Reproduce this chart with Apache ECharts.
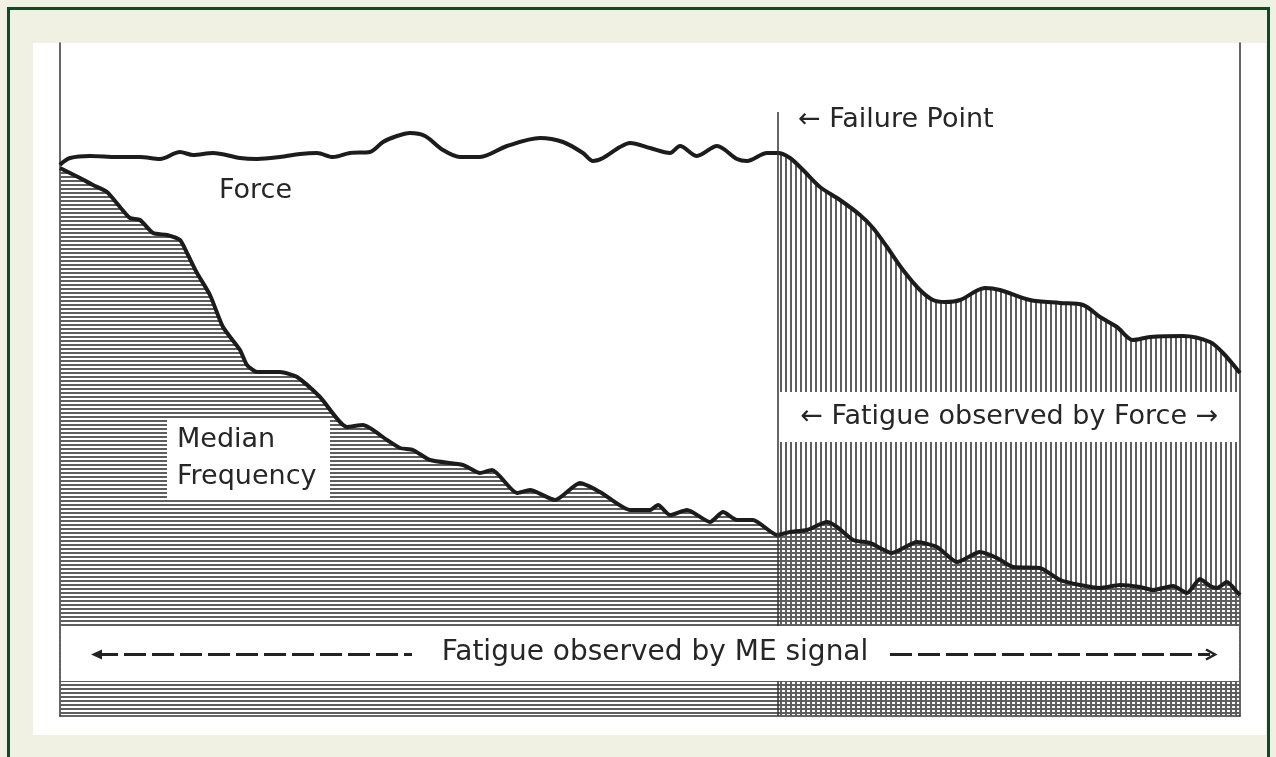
<!DOCTYPE html>
<html>
<head>
<meta charset="utf-8">
<title>Force and median frequency during fatigue</title>
<script src="https://cdn.jsdelivr.net/npm/echarts@6/dist/echarts.min.js"></script>
<style>
  html, body { margin: 0; padding: 0; width: 1276px; height: 757px; overflow: hidden; background: #f1f1e3; }
  #frame { position: absolute; left: 7px; top: 7px; width: 1263px; height: 770px; box-sizing: border-box; border: 3px solid #0d4b24; border-bottom: none; }
  #panel { position: absolute; left: 33px; top: 43px; width: 1233px; height: 692px; background: #fff; }
  #chart { position: absolute; left: 0; top: 0; width: 1276px; height: 757px; }
</style>
</head>
<body>
<div id="frame"></div>
<div id="panel"></div>
<div id="chart"></div>
<script>
// time axis (arbitrary units) and values
var forceT = [0, 2, 10, 30, 57, 80, 100, 120, 133, 153, 180, 197, 220, 240, 257, 273, 290, 310, 323, 337,
  350, 365, 383, 400, 420, 447, 480, 503, 523, 533, 543, 560, 570, 590, 610, 620, 637, 657, 677, 687,
  707, 718, 730, 743, 760, 780, 800, 813, 827, 843, 860, 873, 885, 900, 925, 940, 970, 1000, 1023, 1040,
  1057, 1073, 1090, 1123, 1150, 1163, 1180];
var forceVal = [551, 553, 558, 560, 559, 559, 557, 564, 561, 563, 558, 557, 559, 562, 563, 559, 563, 564, 574, 580,
  583, 580, 566, 559, 559, 570, 578, 574, 563, 555, 558, 569, 573, 568, 563, 570, 560, 570, 557, 555,
  563, 563, 558, 546, 529, 516, 501, 488, 469, 446, 426, 416, 414, 416, 428, 426, 416, 413, 411, 399,
  389, 376, 379, 380, 374, 363, 343];

var medT = [0, 20, 33, 47, 60, 70, 80, 93, 107, 120, 127, 137, 150, 163, 180, 187, 197, 220, 237, 260,
  287, 303, 327, 340, 353, 370, 403, 420, 432, 457, 470, 495, 520, 540, 570, 590, 598, 610, 627, 650,
  663, 677, 693, 717, 730, 747, 767, 777, 793, 810, 832, 857, 877, 897, 920, 937, 953, 980, 1000, 1020,
  1040, 1060, 1080, 1093, 1113, 1127, 1140, 1150, 1157, 1167, 1178, 1180];
var medVal = [548, 538, 531, 524, 509, 498, 496, 483, 481, 476, 463, 443, 421, 389, 366, 351, 344, 344, 339, 319,
  289, 291, 276, 268, 266, 256, 251, 243, 246, 223, 226, 216, 233, 224, 206, 206, 211, 201, 206, 194,
  204, 196, 196, 181, 184, 186, 194, 189, 176, 173, 163, 174, 169, 154, 164, 158, 149, 148, 136, 131,
  128, 131, 129, 126, 130, 123, 137, 130, 128, 134, 123, 121];

var failureT = 718;

function zip(a, b) {
  var out = [];
  for (var i = 0; i < a.length; i++) out.push([a[i], b[i]]);
  return out;
}

// hatch tile: thin grey stroke, transparent gap so two tiles overlap into a cross-hatch
function hatch(w, h, vertical) {
  var c = document.createElement('canvas');
  c.width = w;
  c.height = h;
  var ctx = c.getContext('2d');
  ctx.fillStyle = '#5e5e5e';
  if (vertical) ctx.fillRect(0, 0, 2, h);
  else ctx.fillRect(0, 0, w, 2);
  return c;
}

var forceData = zip(forceT, forceVal);
var medData = zip(medT, medVal);
var forceAfter = forceData.filter(function (p) { return p[0] >= failureT; });

var ink = '#1c1c1c';
var font = 'DejaVu Sans';

var chart = echarts.init(document.getElementById('chart'));
chart.setOption({
  animation: false,
  backgroundColor: 'transparent',
  grid: { left: 60, right: 36, top: 43, bottom: 41 },
  xAxis: {
    type: 'value', min: 0, max: 1180,
    axisLine: { show: true, lineStyle: { color: '#333', width: 1.5 } },
    axisTick: { show: false }, axisLabel: { show: false }, splitLine: { show: false }
  },
  yAxis: [{
    type: 'value', min: 0, max: 673, position: 'left',
    axisLine: { show: true, onZero: false, lineStyle: { color: '#333', width: 1.5 } },
    axisTick: { show: false }, axisLabel: { show: false }, splitLine: { show: false }
  }, {
    type: 'value', min: 0, max: 673, position: 'right',
    axisLine: { show: true, onZero: false, lineStyle: { color: '#333', width: 1.5 } },
    axisTick: { show: false }, axisLabel: { show: false }, splitLine: { show: false }
  }],
  series: [{
    name: 'Fatigue (force)',
    type: 'line',
    data: forceAfter,
    symbol: 'none',
    smooth: 0.3,
    lineStyle: { width: 0, opacity: 0 },
    areaStyle: { color: { image: hatch(5, 8, true), repeat: 'repeat' }, opacity: 1 }
  }, {
    name: 'Median Frequency',
    type: 'line',
    data: medData,
    symbol: 'none',
    smooth: 0.2,
    lineStyle: { width: 4, color: ink },
    areaStyle: { color: { image: hatch(8, 4, false), repeat: 'repeat' }, opacity: 1 }
  }, {
    name: 'Force',
    type: 'line',
    data: forceData,
    symbol: 'none',
    smooth: 0.3,
    lineStyle: { width: 4, color: ink },
    markLine: {
      silent: true,
      symbol: ['none', 'none'],
      label: { show: false },
      lineStyle: { color: '#333', width: 1.5, type: 'solid' },
      data: [[{ coord: [failureT, 0] }, { coord: [failureT, 604] }]]
    }
  }]
});

function px(t, v) { return chart.convertToPixel({ gridIndex: 0 }, [t, v]); }

function whiteBox(t0, v0, t1, v1) {
  var a = px(t0, v0), b = px(t1, v1);
  return {
    type: 'rect', z: 50,
    shape: { x: a[0], y: a[1], width: b[0] - a[0], height: b[1] - a[1] },
    style: { fill: '#fff' }
  };
}

function label(text, x, y, size, align) {
  return {
    type: 'text', z: 60,
    style: {
      text: text, x: x, y: y, font: size + 'px "' + font + '"', fill: '#262626',
      align: align, verticalAlign: 'middle', textAlign: align, textVerticalAlign: 'middle'
    }
  };
}

var meBand = [px(1, 90), px(1179, 35)];
var meY = (meBand[0][1] + meBand[1][1]) / 2 + 1;
var forceBand = [px(failureT + 1.5, 324), px(1179, 274)];

chart.setOption({
  graphic: [
    whiteBox(1, 90, 1179, 35),
    whiteBox(failureT + 1.5, 324, 1179, 274),
    whiteBox(107, 296, 270, 218),
    label('Force', 219, 191, 27, 'left'),
    label('\u2190 Failure Point', 798, 120, 27, 'left'),
    label('Median', 177, 440, 27, 'left'),
    label('Frequency', 177, 477, 27, 'left'),
    label('\u2190 Fatigue observed by Force \u2192', (forceBand[0][0] + forceBand[1][0]) / 2, (forceBand[0][1] + forceBand[1][1]) / 2, 27, 'center'),
    label('Fatigue observed by ME signal', 655, meY - 2, 28, 'center'),
    { type: 'line', z: 60, shape: { x1: 96, y1: meY, x2: 412, y2: meY },
      style: { stroke: '#222', lineWidth: 3, lineDash: [22, 6] } },
    { type: 'polygon', z: 60, shape: { points: [[91, meY], [102, meY - 5], [102, meY + 5]] },
      style: { fill: '#222' } },
    { type: 'line', z: 60, shape: { x1: 890, y1: meY, x2: 1210, y2: meY },
      style: { stroke: '#222', lineWidth: 3, lineDash: [22, 6] } },
    { type: 'polyline', z: 60, shape: { points: [[1206, meY - 5], [1215, meY], [1206, meY + 5]] },
      style: { stroke: '#222', lineWidth: 2.5, fill: null } }
  ]
});
</script>
</body>
</html>
